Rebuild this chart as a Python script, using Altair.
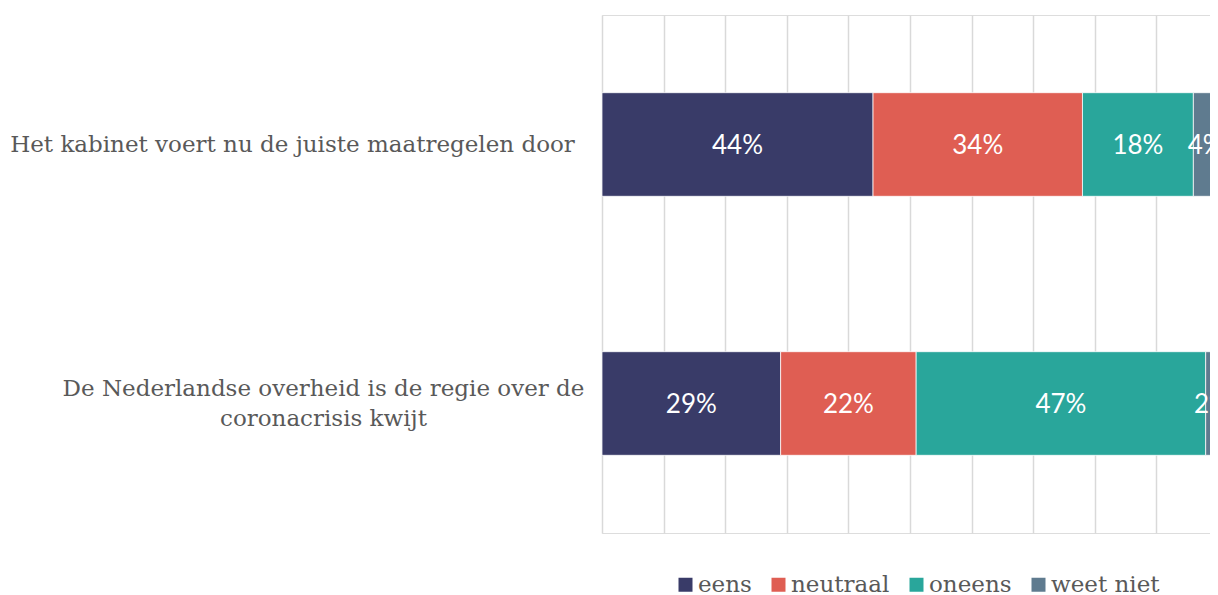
import altair as alt
import pandas as pd

statements = [
    "Het kabinet voert nu de juiste maatregelen door",
    "De Nederlandse overheid is de regie over de coronacrisis kwijt",
]
answers = ["eens", "neutraal", "oneens", "weet niet"]
values_kabinet = [44, 34, 18, 4]
values_overheid = [29, 22, 47, 2]
colors = ["#393b68", "#df5e53", "#29a69b", "#5f7b8f"]

rows = []
for s, vals in zip(statements, [values_kabinet, values_overheid]):
    for i, (a, v) in enumerate(zip(answers, vals)):
        rows.append({"stelling": s, "antwoord": a, "pct": v, "idx": i})
df = pd.DataFrame(rows)

serif = "DejaVu Serif"
grey_text = "#595959"

is_top = "datum.value == '" + statements[0] + "'"
label_expr = (
    "datum.value == '" + statements[1] + "' ? "
    "['De Nederlandse overheid is de regie over de', 'coronacrisis kwijt'] : datum.label"
)

# plot is 608px wide inside the page; the reference's 100% lies 8px further right (page edge)
PLOT_W = 608
x_scale = alt.Scale(domain=[0, 100 * PLOT_W / 616], nice=False, zero=True)
y_scale = alt.Scale(paddingInner=0.6, paddingOuter=0.3)

y_axis = alt.Axis(
    title=None,
    domain=False,
    ticks=False,
    grid=False,
    labelExpr=label_expr,
    labelAlign="center",
    labelBaseline="middle",
    labelPadding={"condition": {"test": is_top, "value": 310}, "value": 279},
    labelOffset={"condition": {"test": is_top, "value": 0}, "value": -15},
    labelFont=serif,
    labelFontSize=23,
    labelColor=grey_text,
    labelLimit=700,
    labelLineHeight=30,
)
x_axis = alt.Axis(
    title=None,
    values=list(range(0, 101, 10)),
    labels=False,
    ticks=False,
    domain=False,
    grid=True,
    gridColor="#d9d9d9",
    gridWidth=1.5,
)

bars = alt.Chart(df).mark_bar(stroke="white", strokeWidth=0.75).encode(
    y=alt.Y("stelling:N", sort=statements, scale=y_scale, axis=y_axis),
    x=alt.X("pct:Q", stack="zero", scale=x_scale, axis=x_axis),
    color=alt.Color(
        "antwoord:N",
        sort=answers,
        scale=alt.Scale(domain=answers, range=colors),
        legend=alt.Legend(
            title=None,
            orient="none",
            legendX=72,
            legendY=558,
            direction="horizontal",
            symbolType="square",
            symbolSize=196,
            symbolStrokeWidth=0,
            labelFont=serif,
            labelFontSize=23,
            labelColor=grey_text,
            labelOffset=1,
            columnPadding=15,
            padding=0,
            labelLimit=300,
        ),
    ),
    order=alt.Order("idx:Q", sort="ascending"),
)

text = (
    alt.Chart(df)
    .transform_stack(
        stack="pct",
        as_=["x0", "x1"],
        groupby=["stelling"],
        sort=[alt.SortField("idx", order="ascending")],
    )
    .transform_calculate(mid="(datum.x0 + datum.x1) / 2", label="datum.pct + '%'")
    .mark_text(color="white", font="Lato", fontSize=26, fontWeight=400, baseline="middle", dy=1)
    .encode(
        x=alt.X("mid:Q", scale=x_scale, axis=x_axis),
        y=alt.Y("stelling:N", sort=statements, scale=y_scale, axis=y_axis),
        text="label:N",
    )
)

chart = (
    alt.layer(bars, text)
    .properties(
        width=PLOT_W,
        height=518,
        autosize=alt.AutoSizeParams(type="none"),
        padding={"left": 594, "top": 7, "right": 0, "bottom": 62},
    )
    .configure_view(strokeWidth=0)
    .configure(background="white")
)

chart.save("out.html", embed_options={"renderer": "svg", "actions": False})
